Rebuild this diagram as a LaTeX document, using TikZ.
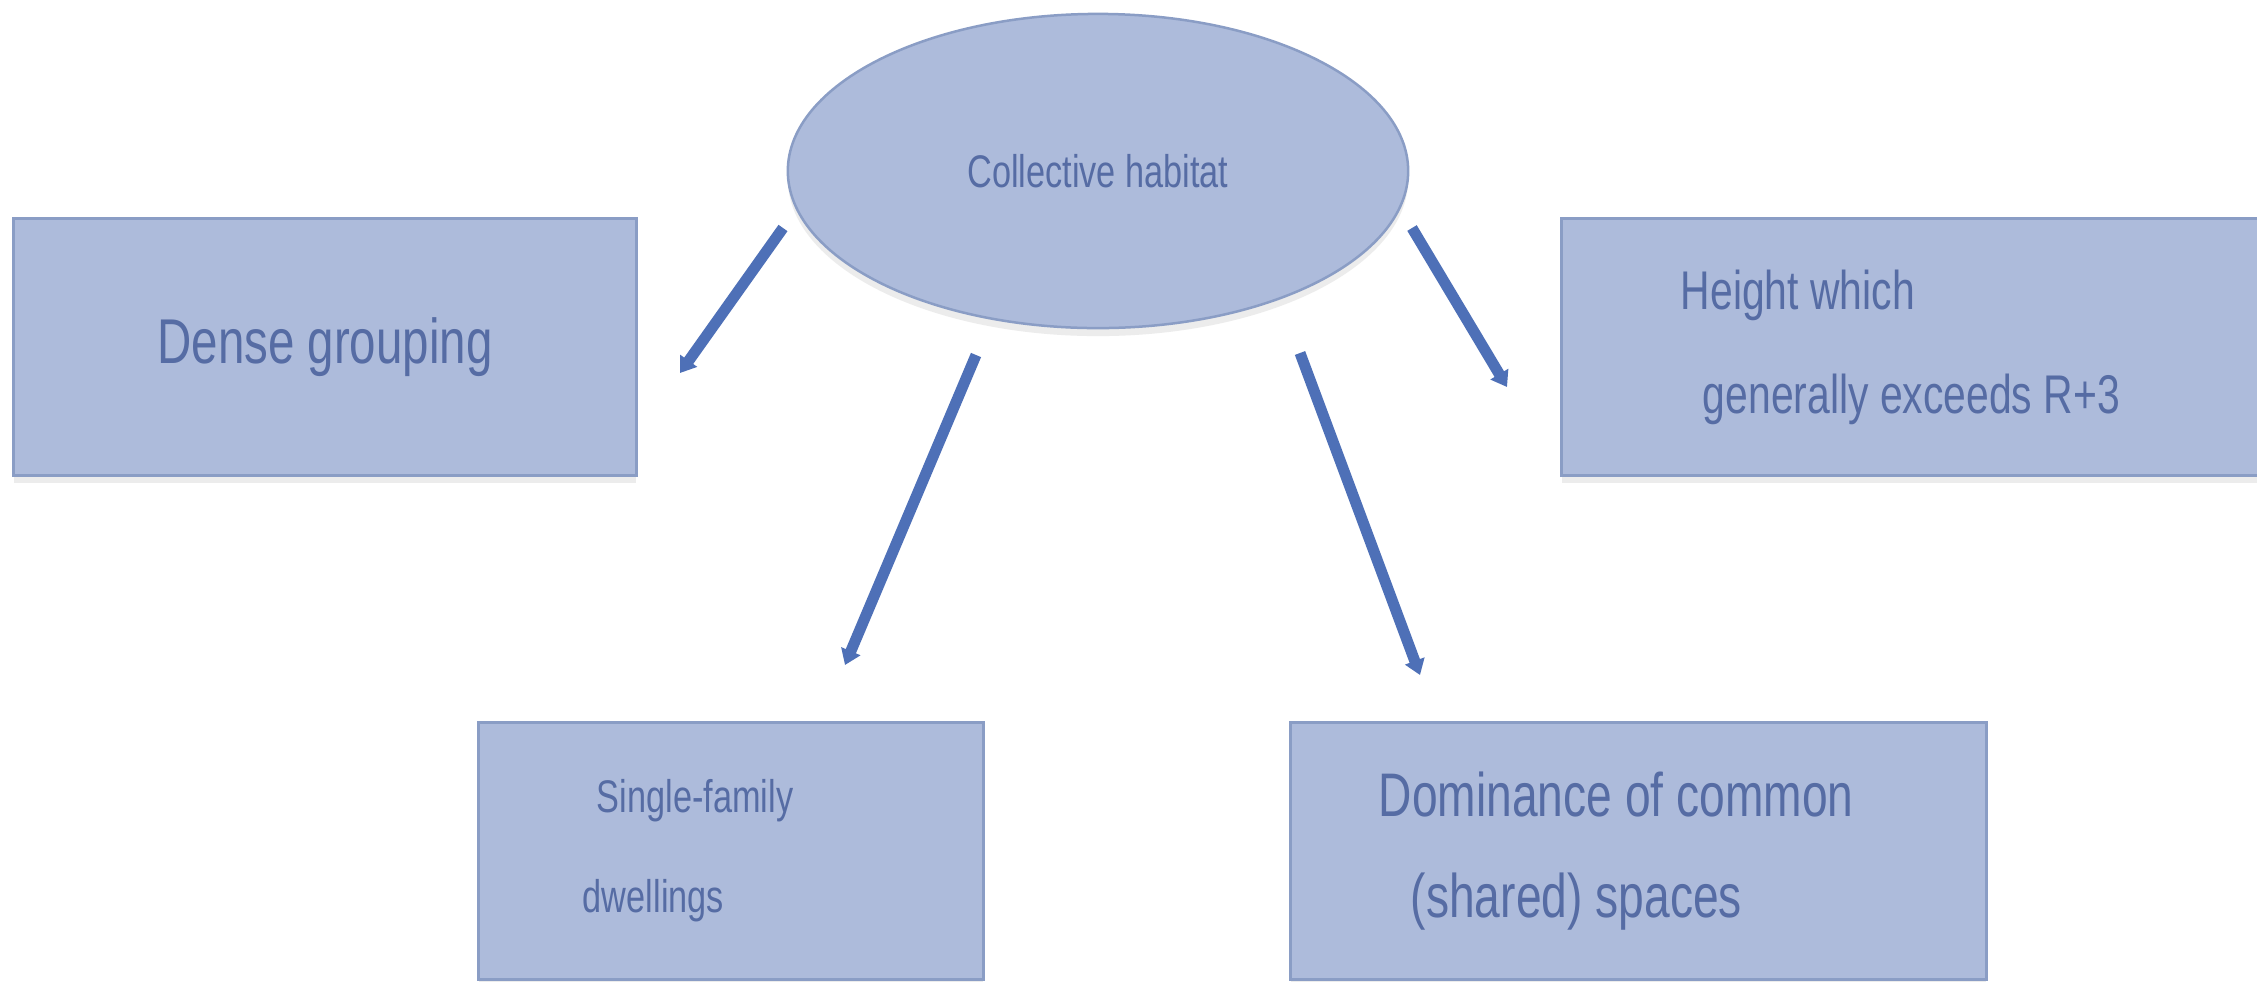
\documentclass[tikz,border=0pt]{standalone}
\usepackage{fontspec}
\newfontfamily\diagfont[FakeStretch=0.75]{Liberation Sans}
\usetikzlibrary{shapes,arrows.meta,shadows}
\definecolor{boxfill}{RGB}{173,187,219}
\definecolor{boxline}{RGB}{138,157,197}
\definecolor{txtblue}{RGB}{86,108,164}
\definecolor{arrowblue}{RGB}{78,112,183}
\newcommand{\tightsp}{\spaceskip=0.21em\relax}

\begin{document}
\begin{tikzpicture}[x=0.01cm,y=-0.01cm,inner sep=0pt,
  box/.style={rectangle,draw=boxline,line width=0.03cm,fill=boxfill,text=txtblue,
    minimum height=2.56cm,
    drop shadow={opacity=0.15,shadow xshift=0cm,shadow yshift=-0.08cm}},
  link/.style={draw=arrowblue,line width=0.11cm,-{Triangle[width=0.2cm,length=0.15cm]}}]
\clip (0,0) rectangle (2257,981);
\fill[white] (0,0) rectangle (2257,981);
% centre
\node (hab) at (1098,171) [ellipse,draw=boxline,line width=0.025cm,fill=boxfill,text=txtblue,
  minimum width=6.2cm,minimum height=3.14cm,
  font=\diagfont\fontsize{13pt}{16pt}\selectfont,
  drop shadow={opacity=0.15,shadow xshift=0cm,shadow yshift=-0.08cm}] {Collective habitat};
% boxes
\node (dense) at (325,347) [box,minimum width=6.22cm,
  font=\diagfont\fontsize{18pt}{22pt}\selectfont] {Dense grouping};
\node (height) at (1912,347) [box,minimum width=7cm,text width=4.62cm,align=left,
  font=\diagfont\fontsize{15.5pt}{29.6pt}\selectfont] {\tightsp Height which\\\hspace*{0.22cm}generally exceeds R+3};
\node (single) at (731,851) [box,minimum width=5.04cm,text width=2.96cm,align=left,
  font=\diagfont\fontsize{13pt}{28.5pt}\selectfont] {\hspace*{0.14cm}Single-family\\dwellings};
\node (common) at (1638.5,851) [box,minimum width=6.95cm,text width=5.19cm,align=left,
  font=\diagfont\fontsize{17.5pt}{28.5pt}\selectfont] {\tightsp Dominance of common\\\hspace*{0.32cm}(shared) spaces};
% arrow ends
\coordinate (hab-w) at (783,228);
\coordinate (dense-in) at (680,373);
\coordinate (hab-sw) at (976,355);
\coordinate (single-in) at (845,665);
\coordinate (hab-se) at (1300,353);
\coordinate (common-in) at (1420,675);
\coordinate (hab-e) at (1412,228);
\coordinate (height-in) at (1507,387);
\draw[link] (hab-w) -- (dense-in);
\draw[link] (hab-sw) -- (single-in);
\draw[link] (hab-se) -- (common-in);
\draw[link] (hab-e) -- (height-in);
\end{tikzpicture}
\end{document}
